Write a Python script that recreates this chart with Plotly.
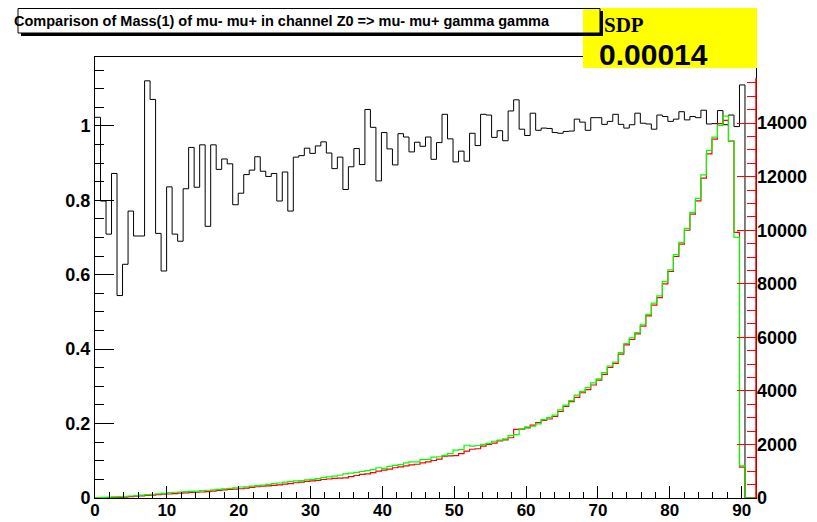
import numpy as np
import plotly.graph_objects as go

# ROOT-style histograms: 120 bins on [0, 92]
n_bins = 120
x_lo, x_hi = 0.0, 92.0

# black: ratio histogram (left axis)
ratio = [
    1.023, 0.798, 0.709, 0.872, 0.544, 0.628, 0.771, 0.704, 0.704, 1.121,
    1.071, 0.711, 0.610, 0.836, 0.709, 0.690, 0.831, 0.942, 0.835, 0.949,
    0.730, 0.949, 0.883, 0.911, 0.898, 0.788, 0.819, 0.869, 0.881, 0.917,
    0.878, 0.864, 0.872, 0.798, 0.876, 0.771, 0.916, 0.920, 0.940, 0.926,
    0.946, 0.957, 0.927, 0.885, 0.916, 0.829, 0.890, 0.939, 0.896, 1.044,
    0.996, 0.852, 0.982, 0.938, 0.895, 0.979, 0.970, 0.930, 0.956, 0.945,
    0.970, 0.910, 0.955, 1.031, 0.965, 0.903, 0.932, 0.905, 0.980, 0.947,
    1.031, 1.029, 0.969, 0.987, 0.960, 1.040, 1.070, 0.991, 0.974, 1.034,
    0.988, 0.994, 0.993, 0.982, 0.980, 0.985, 0.986, 1.018, 1.010, 0.988,
    1.022, 1.022, 1.004, 1.012, 1.031, 1.004, 0.994, 1.003, 1.034, 1.007,
    1.005, 0.991, 1.029, 1.025, 1.012, 1.018, 1.038, 1.016, 1.025, 1.022,
    1.042, 1.005, 1.006, 1.041, 1.003, 1.029, 0.998, 1.110, 0.0, 0.0,
]

# red / green: mass distributions (right axis)
mass_red = [
    5, 10, 15, 20, 25, 35, 50, 65, 80, 95,
    110, 125, 140, 150, 165, 180, 195, 205, 215, 225,
    240, 260, 280, 300, 320, 335, 345, 370, 395, 420,
    440, 450, 470, 490, 515, 540, 570, 590, 620, 640,
    660, 690, 710, 730, 740, 750, 800, 840, 880, 900,
    950, 1000, 1040, 1080, 1130, 1160, 1200, 1240, 1260, 1310,
    1350, 1400, 1450, 1560, 1570, 1580, 1660, 1750, 1820, 1840,
    1940, 2000, 2050, 2130, 2170, 2250, 2560, 2570, 2620, 2720,
    2820, 2900, 2950, 3050, 3230, 3420, 3600, 3760, 3930, 4050,
    4220, 4400, 4620, 4880, 5030, 5370, 5720, 5920, 6130, 6420,
    6800, 7200, 7480, 8000, 8460, 9020, 9480, 10000, 10600, 11100,
    11950, 12850, 13400, 13980, 14100, 13330, 9920, 1150, 0, 0,
]
mass_green = [
    10, 20, 30, 40, 50, 60, 75, 90, 110, 125,
    140, 155, 175, 200, 215, 225, 235, 245, 260, 280,
    290, 300, 320, 345, 360, 380, 410, 420, 440, 460,
    485, 510, 540, 560, 590, 615, 640, 650, 675, 695,
    720, 760, 790, 820, 850, 900, 930, 960, 990, 1020,
    1060, 1130, 1110, 1180, 1220, 1250, 1310, 1350, 1350, 1430,
    1440, 1530, 1540, 1590, 1660, 1790, 1810, 1970, 1940, 1960,
    2000, 2040, 2120, 2160, 2210, 2330, 2370, 2580, 2660, 2680,
    2770, 2930, 3000, 3100, 3290, 3470, 3640, 3840, 3980, 4120,
    4300, 4450, 4680, 4930, 5080, 5430, 5770, 5980, 6180, 6490,
    6860, 7280, 7550, 8080, 8520, 9090, 9550, 10070, 10670, 11190,
    12070, 12980, 13480, 13920, 14260, 13330, 9730, 1200, 0, 0,
]

x_ticks = list(range(0, 91, 10))
y_ticks = [0, 0.2, 0.4, 0.6, 0.8, 1]
y2_ticks = list(range(0, 14001, 2000))

title_text = "Comparison of Mass(1) of mu- mu+ in channel Z0 => mu- mu+ gamma gamma"
sdp_label = "SDP"
sdp_value = "0.00014"

# page body has an 8px margin, so the figure is made that much smaller
OFF = 8
W, H = 817 - OFF, 522 - OFF
L, R, T, B = 87, 61, 49, 24
PW, PH = W - L - R, H - T - B


def px(x):
    # screen pixel -> paper fraction
    return (x - OFF - L) / PW


def py(y):
    return (H - B - (y - OFF)) / PH


edges = np.linspace(x_lo, x_hi, n_bins + 1)


def step(values):
    xs = list(edges[:-1]) + [edges[-1]]
    ys = list(values) + [values[-1]]
    return xs, ys


y_top = 1.185
y2_axis_top = 1.1 * max(mass_green)
y2_top = y2_axis_top * PH / (PH - 21)

tick_font = dict(family="Liberation Sans, Arial", size=18, color="black", weight="bold")
xtick_font = dict(family="Liberation Sans, Arial", size=17, color="black", weight="bold")

fig = go.Figure()

xs, ys = step(ratio)
fig.add_trace(go.Scatter(x=xs, y=ys, mode="lines", line=dict(color="black", width=1, shape="hv"),
                         hoverinfo="skip"))
xs, ys = step(mass_red)
fig.add_trace(go.Scatter(x=xs, y=ys, yaxis="y2", mode="lines",
                         line=dict(color="#ff0000", width=1.2, shape="hv"), hoverinfo="skip"))
xs, ys = step(mass_green)
fig.add_trace(go.Scatter(x=xs, y=ys, yaxis="y2", mode="lines",
                         line=dict(color="#00ff00", width=1.2, shape="hv"), hoverinfo="skip"))

fig.update_layout(
    width=W, height=H,
    margin=dict(l=L, r=R, t=T, b=B),
    paper_bgcolor="white", plot_bgcolor="white",
    showlegend=False,
    xaxis=dict(
        range=[x_lo, x_hi], tickvals=x_ticks, ticks="inside", ticklen=12, tickcolor="black",
        minor=dict(dtick=2, ticks="inside", ticklen=6, tickcolor="black", showgrid=False),
        showline=True, linecolor="black", linewidth=1, mirror=True,
        showgrid=False, zeroline=False, tickfont=xtick_font, automargin=False,
        ticklabelstandoff=-3,
    ),
    yaxis=dict(
        range=[0, y_top], tickvals=y_ticks, ticks="inside", ticklen=19, tickcolor="black",
        minor=dict(dtick=0.05, ticks="inside", ticklen=9, tickcolor="black", showgrid=False),
        showline=True, linecolor="black", linewidth=1, mirror=True,
        showgrid=False, zeroline=False, tickfont=tick_font, automargin=False,
    ),
    yaxis2=dict(
        overlaying="y", side="right", anchor="x",
        range=[0, y2_top], tickvals=y2_ticks, tickformat="d",
        ticks="inside", ticklen=19, tickcolor="#ff0000",
        minor=dict(tickvals=list(range(500, int(y2_axis_top), 500)), ticks="inside",
                   ticklen=9, tickcolor="#ff0000", showgrid=False),
        showline=False, showgrid=False, zeroline=False, tickfont=tick_font, automargin=False,
    ),
)

# red right axis line
fig.add_shape(type="line", xref="paper", yref="y2", x0=1, x1=1, y0=0, y1=y2_axis_top,
              line=dict(color="#ff0000", width=1.5))

# SDP box
fig.add_shape(type="rect", xref="paper", yref="paper", x0=px(583), x1=px(757), y0=py(68), y1=py(8),
              fillcolor="#ffff00", line=dict(width=0), layer="above")
# title pave with shadow
fig.add_shape(type="rect", xref="paper", yref="paper", x0=px(21), x1=px(603), y0=py(36), y1=py(33),
              fillcolor="black", line=dict(width=0))
fig.add_shape(type="rect", xref="paper", yref="paper", x0=px(600), x1=px(603), y0=py(36), y1=py(11),
              fillcolor="black", line=dict(width=0))
fig.add_shape(type="rect", xref="paper", yref="paper", x0=px(18), x1=px(600), y0=py(33), y1=py(8.5),
              fillcolor="rgba(0,0,0,0)", line=dict(color="black", width=1))

fig.add_annotation(text=title_text, xref="paper", yref="paper", x=px(12), y=py(21),
                   xanchor="left", yanchor="middle", showarrow=False,
                   font=dict(family="Liberation Sans, Arial", size=14.5, color="black", weight="bold"))
fig.add_annotation(text=sdp_label, xref="paper", yref="paper", x=px(602), y=py(25),
                   xanchor="left", yanchor="middle", showarrow=False,
                   font=dict(family="Liberation Serif, Times New Roman", size=21, color="black", weight="bold"))
fig.add_annotation(text=sdp_value, xref="paper", yref="paper", x=px(597), y=py(54),
                   xanchor="left", yanchor="middle", showarrow=False,
                   font=dict(family="Liberation Sans, Arial", size=30, color="black", weight="bold"))

fig.write_html("out.html")
